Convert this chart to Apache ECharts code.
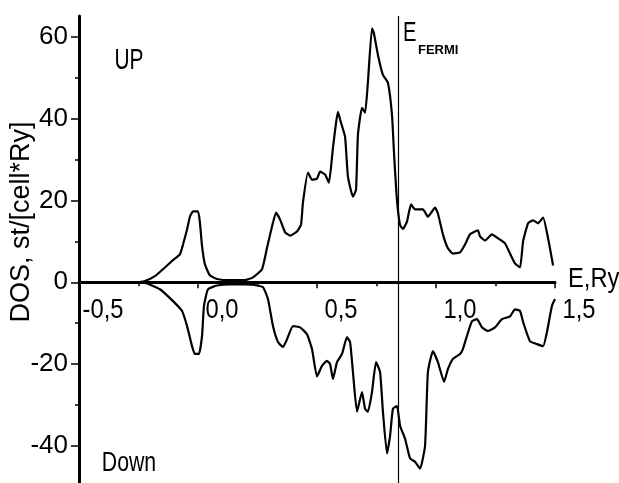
<!DOCTYPE html>
<html>
<head>
<meta charset="utf-8">
<script src="https://cdn.jsdelivr.net/npm/echarts@6/dist/echarts.min.js"></script>
<style>
html,body{margin:0;padding:0;background:#fff;}
#chart{width:619px;height:483px;}
</style>
</head>
<body>
<div id="chart"></div>
<script>
// ---- data (energy in Ry, DOS in st/[cell*Ry]) ----
const energyUp = [-0.25,-0.223,-0.181,-0.147,-0.105,-0.076,-0.063,-0.046,-0.034,-0.021,0.000,0.008,0.017,0.029,0.050,0.080,0.134,0.197,0.231,0.269,0.290,0.311,0.328,0.345,0.366,0.387,0.416,0.433,0.441,0.462,0.479,0.500,0.513,0.534,0.550,0.567,0.580,0.588,0.601,0.618,0.630,0.651,0.664,0.672,0.689,0.702,0.714,0.731,0.739,0.756,0.777,0.798,0.815,0.824,0.836,0.849,0.861,0.878,0.895,0.912,0.945,0.966,0.996,1.008,1.029,1.050,1.071,1.101,1.122,1.143,1.176,1.185,1.206,1.235,1.261,1.290,1.311,1.332,1.353,1.366,1.387,1.408,1.429,1.450,1.471,1.492];
const dosUp = [0,0.3,1.5,3.2,5.4,6.8,9.2,12.9,16,17.3,17.3,14.6,8.8,4.4,1.7,0.8,0.5,0.5,1.2,3.2,8.4,13.6,17,15.3,12.2,11.4,12.4,14.1,19.5,26.8,25,25.3,27,26.3,24.3,32.8,38.9,41.6,38.9,35.5,25.8,20.9,22.6,36,42.6,41.4,48.9,62,60.8,55.5,50.6,48.7,40.9,31.1,20,14,13,14.8,19,17.8,17.8,16,18.2,16.8,11.7,8.3,7,7.3,9.2,11.7,12.7,11.2,10.2,11.7,10.7,9.5,7,4.6,3.6,10,14.4,15.1,14.4,15.8,10.7,4.1];
const energyDown = [-0.25,-0.214,-0.160,-0.105,-0.067,-0.046,-0.025,-0.013,0.004,0.017,0.025,0.042,0.080,0.134,0.197,0.231,0.273,0.294,0.315,0.336,0.357,0.374,0.399,0.429,0.458,0.479,0.500,0.521,0.542,0.555,0.567,0.584,0.605,0.626,0.639,0.651,0.668,0.689,0.702,0.714,0.731,0.748,0.765,0.777,0.794,0.807,0.819,0.836,0.849,0.870,0.891,0.912,0.933,0.954,0.966,0.987,1.008,1.034,1.050,1.071,1.101,1.113,1.130,1.151,1.172,1.193,1.218,1.248,1.277,1.311,1.332,1.353,1.366,1.395,1.424,1.450,1.466,1.487,1.500];
const dosDown = [0,-0.3,-1.7,-4.6,-7,-10.7,-15.6,-17.5,-17.5,-13.1,-5.8,-1.7,-0.8,-0.5,-0.5,-0.6,-1.2,-4.1,-10.7,-14.6,-15.8,-13.9,-10.7,-11,-12.7,-16.3,-23,-20.4,-19.2,-20,-23.6,-19.5,-17.5,-13.4,-14.6,-21.9,-31.6,-26.8,-30.9,-31.6,-26.8,-19.5,-21.9,-31.6,-41.8,-37.5,-30.9,-30.2,-35,-38.2,-43,-43.8,-45.5,-39.9,-21.9,-16.8,-19.5,-24.3,-21.2,-18.7,-17.5,-16.3,-13.1,-9.5,-9,-11,-11.9,-11,-9,-8.3,-6.6,-7,-9.7,-14.4,-15.1,-15.6,-12.2,-5.8,-4.1];
const fermiEnergy = 0.836;
const xTickValues = [-0.5, 0.0, 0.5, 1.0, 1.5];
const xTickLabels = ['-0,5', '0,0', '0,5', '1,0', '1,5'];
const yTickValues = [-40, -20, 0, 20, 40, 60];
const yTickLabels = ['-40', '-20', '0', '20', '40', '60'];
const yMinorValues = [-30, -10, 10, 30, 50];

const FONT = "'Liberation Sans', Arial, sans-serif";

const upData = energyUp.map((e, i) => [e, dosUp[i]]);
const downData = energyDown.map((e, i) => [e, dosDown[i]]);

const chart = echarts.init(document.getElementById('chart'), null, {renderer: 'canvas'});
chart.setOption({
  backgroundColor: '#ffffff',
  animation: false,
  grid: {left: 79, right: 64, top: 16, bottom: 0, containLabel: false, outerBoundsMode: 'none'},
  xAxis: {
    type: 'value', min: -0.5, max: 1.5, interval: 0.5,
    axisLine: {show: true, onZero: true, onZeroAxisIndex: 0, lineStyle: {color: '#000', width: 3}},
    axisTick: {show: true, length: 6, lineStyle: {color: '#000', width: 1.5}},
    minorTick: {show: true, splitNumber: 2, length: 4, lineStyle: {color: '#000', width: 1.5}},
    splitLine: {show: false},
    axisLabel: {show: false}
  },
  yAxis: [{
    type: 'value', min: -49, max: 65, position: 'left',
    axisLine: {show: true, onZero: false, lineStyle: {color: '#000', width: 3}},
    axisTick: {show: true, length: 8, customValues: yTickValues, lineStyle: {color: '#000', width: 1.5}},
    splitLine: {show: false},
    axisLabel: {
      show: true, color: '#000', fontFamily: FONT, fontSize: 26, margin: 11,
      customValues: yTickValues,
      formatter: v => { const i = yTickValues.indexOf(v); return i >= 0 ? yTickLabels[i] : ''; }
    }
  }, {
    type: 'value', min: -49, max: 65, position: 'left',
    axisLine: {show: false, onZero: false},
    axisTick: {show: true, length: 4, customValues: yMinorValues, lineStyle: {color: '#000', width: 1.5}},
    axisLabel: {show: false},
    splitLine: {show: false}
  }],
  series: [{
    name: 'UP', type: 'line', data: upData, showSymbol: false, symbol: 'none', smooth: 0.15,
    lineStyle: {color: '#000', width: 2.2}, z: 3,
    markLine: {
      silent: true, symbol: 'none', label: {show: false},
      lineStyle: {color: '#000', width: 1.2, type: 'solid'},
      data: [{xAxis: fermiEnergy}]
    }
  }, {
    name: 'Down', type: 'line', data: downData, showSymbol: false, symbol: 'none', smooth: 0.15,
    lineStyle: {color: '#000', width: 2.2}, z: 3
  }]
});

// texts; x tick labels placed with the chart's own scales (offset to the right like the original print)
const zeroY = chart.convertToPixel({yAxisIndex: 0}, 0);
const textGraphics = [
  {type: 'text', x: 129, y: 61, scaleX: 0.72, style: {text: 'UP', fill: '#000', font: '29px ' + FONT, textAlign: 'center', textVerticalAlign: 'middle'}},
  {type: 'text', x: 129, y: 463, scaleX: 0.76, style: {text: 'Down', fill: '#000', font: '28px ' + FONT, textAlign: 'center', textVerticalAlign: 'middle'}},
  {type: 'text', x: 403, y: 33, scaleX: 0.72, style: {text: 'E', fill: '#000', font: '28px ' + FONT, textAlign: 'left', textVerticalAlign: 'middle'}},
  {type: 'text', x: 418, y: 50, style: {text: 'FERMI', fill: '#000', font: 'bold 13px ' + FONT, textAlign: 'left', textVerticalAlign: 'middle'}},
  {type: 'text', x: 568, y: 280, scaleX: 0.88, style: {text: 'E,Ry', fill: '#000', font: '27px ' + FONT, textAlign: 'left', textVerticalAlign: 'middle'}},
  {type: 'text', x: 22, y: 222, rotation: Math.PI / 2, style: {text: 'DOS, st/[cell*Ry]', fill: '#000', font: '27px ' + FONT, textAlign: 'center', textVerticalAlign: 'middle'}}
];
const xLabelGraphics = xTickValues.map((v, i) => ({
  type: 'text',
  x: chart.convertToPixel({xAxisIndex: 0}, v) + 24,
  y: zeroY + 28,
  scaleX: 0.88,
  style: {text: xTickLabels[i], fill: '#000', font: '27px ' + FONT, textAlign: 'center', textVerticalAlign: 'middle'}
}));
chart.setOption({graphic: textGraphics.concat(xLabelGraphics)});
</script>
</body>
</html>
